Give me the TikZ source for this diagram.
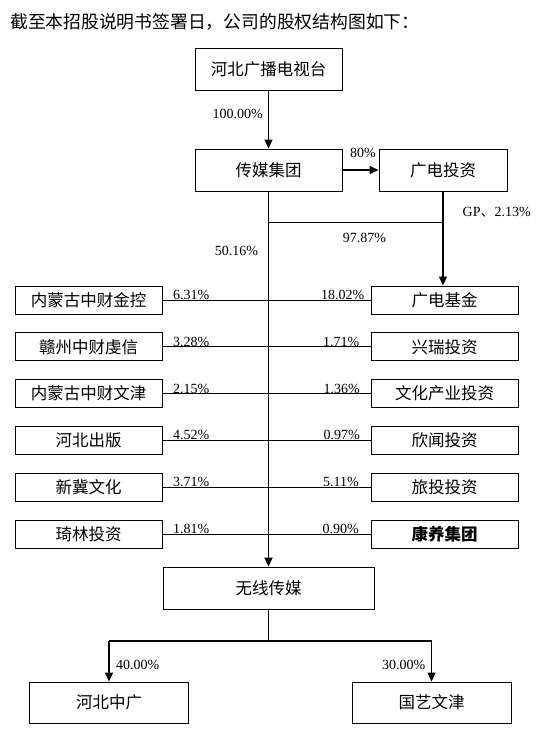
\documentclass[tikz,border=0pt]{standalone}
\usepackage{fontspec}
\setmainfont{Liberation Serif}
\newfontfamily\cjk{Noto Sans CJK SC}
\usetikzlibrary{arrows.meta}
\begin{document}
\begin{tikzpicture}[x=1pt,y=-1pt,
  box/.style={draw,line width=0.9pt,minimum width=147pt,minimum height=28pt,inner sep=0pt,font=\cjk\fontsize{16.5}{18}\selectfont},
  bigbox/.style={box,minimum height=42pt},
  pct/.style={font=\fontsize{14}{16}\selectfont,inner sep=0pt},
  arr/.style={line width=1.2pt,-{Triangle[length=9pt,width=8pt]}},
  ln/.style={line width=1pt}]
\useasboundingbox (0,0) rectangle (543,734);
% title
\node[anchor=west,inner sep=0pt,font=\cjk\fontsize{17.8}{20}\selectfont] (title) at (10,22) {截至本招股说明书签署日，公司的股权结构图如下：};
% top boxes
\node[bigbox] (top) at (268.5,69) {河北广播电视台};
\node[bigbox] (cm) at (268.5,170) {传媒集团};
\node[bigbox,minimum width=128pt] (gd) at (443,170) {广电投资};
% left column
\node[box] (l1) at (88.5,300) {内蒙古中财金控};
\node[box] (l2) at (88.5,346.8) {赣州中财虔信};
\node[box] (l3) at (88.5,393.6) {内蒙古中财文津};
\node[box] (l4) at (88.5,440.4) {河北出版};
\node[box] (l5) at (88.5,487.2) {新冀文化};
\node[box] (l6) at (88.5,534) {琦林投资};
% right column
\node[box] (r1) at (444.5,300) {广电基金};
\node[box] (r2) at (444.5,346.8) {兴瑞投资};
\node[box] (r3) at (444.5,393.6) {文化产业投资};
\node[box] (r4) at (444.5,440.4) {欣闻投资};
\node[box] (r5) at (444.5,487.2) {旅投投资};
\node[box,font=\cjk\bfseries\fontsize{16.5}{18}\selectfont] (r6) at (444.5,534) {康养集团};
% bottom
\node[bigbox,minimum width=211pt] (wx) at (268.5,588) {无线传媒};
\node[bigbox,minimum width=159pt,minimum height=41pt] (hb) at (109,702.5) {河北中广};
\node[bigbox,minimum width=159pt,minimum height=41pt] (gy) at (431.5,702.5) {国艺文津};
% connectors
\draw[arr] (top) -- (cm);
\draw[arr] (cm) -- (gd);
\coordinate (j) at (0,222.7);
\draw[ln] (cm.south |- j) -- (gd.south |- j);
\draw[arr] (gd.south) -- (gd.south |- r1.north);
\foreach \i in {1,...,6} { \draw[ln] (l\i.east) -- (r\i.west); }
\draw[arr,line width=1.7pt] (cm.south) -- (wx.north);
\coordinate (k) at (0,641);
\draw[ln,line width=1.2pt] (wx.south) -- (wx.south |- k);
\draw[ln,line width=1.2pt] (hb.north |- k) -- (gy.north |- k);
\draw[arr] (hb.north |- k) -- (hb.north);
\draw[arr] (gy.north |- k) -- (gy.north);
% labels
\node[pct,anchor=east] (p100) at (263,114) {100.00\%};
\node[pct] (p80) at (363,153) {80\%};
\node[pct,anchor=west] (pgp) at (462.5,212) {GP{\cjk\fontsize{14}{16}\selectfont 、}2.13\%};
\node[pct] (p9787) at (364.5,238) {97.87\%};
\node[pct] (p5016) at (236.5,251) {50.16\%};
\node[pct,anchor=base west] (a1) at (173,299.5) {6.31\%};
\node[pct,anchor=base west] (a2) at (173,346.3) {3.28\%};
\node[pct,anchor=base west] (a3) at (173,393.1) {2.15\%};
\node[pct,anchor=base west] (a4) at (173,439.9) {4.52\%};
\node[pct,anchor=base west] (a5) at (173,486.7) {3.71\%};
\node[pct,anchor=base west] (a6) at (173,533.5) {1.81\%};
\node[pct,anchor=base west] (b1) at (321,299.5) {18.02\%};
\node[pct,anchor=base west] (b2) at (323,346.3) {1.71\%};
\node[pct,anchor=base west] (b3) at (323.5,393.1) {1.36\%};
\node[pct,anchor=base west] (b4) at (323.5,439.9) {0.97\%};
\node[pct,anchor=base west] (b5) at (323,486.7) {5.11\%};
\node[pct,anchor=base west] (b6) at (322.5,533.5) {0.90\%};
\node[pct,anchor=west] (c40) at (116,665) {40.00\%};
\node[pct,anchor=west] (c30) at (382,665) {30.00\%};
\end{tikzpicture}
\end{document}
